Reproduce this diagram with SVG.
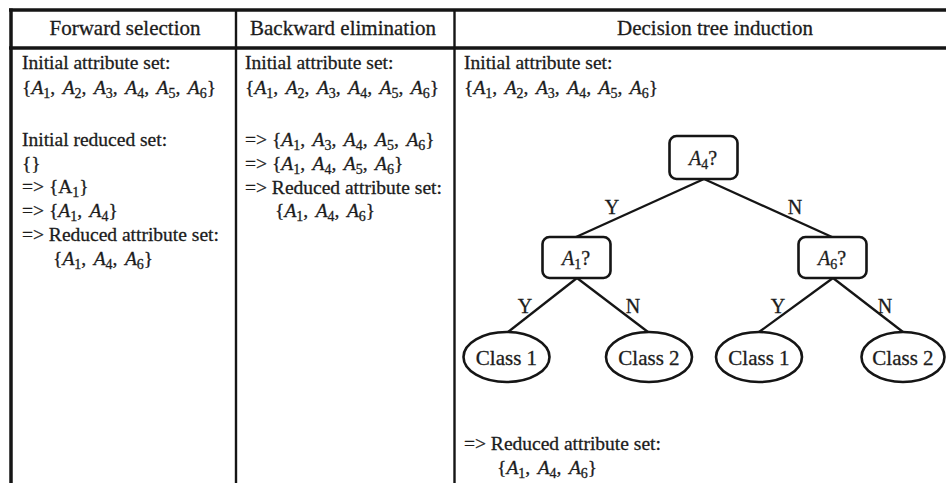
<svg xmlns="http://www.w3.org/2000/svg" width="946" height="486" viewBox="0 0 946 486">
  <style>
    text { font-family: "Liberation Serif", "Times New Roman", serif; fill: #1c1c1c; stroke: #1c1c1c; stroke-width: 0.3; }
    .hd { font-size: 21px; text-anchor: middle; }
    .bd { font-size: 19.5px; }
    .set { word-spacing: 2.6px; }
    .arr { word-spacing: 0; }
    .i { font-style: italic; }
    .s { font-size: 14px; }
    .rule { stroke: #151515; fill: none; }
    .box { fill: #fff; stroke: #151515; stroke-width: 2.6; }
    .edge { stroke: #151515; stroke-width: 2.3; fill: none; }
    .lbl { font-size: 20px; text-anchor: middle; }
    .leaf { font-size: 21px; text-anchor: middle; }
  </style>
  <rect width="946" height="486" fill="#fff"/>

  <!-- table rules -->
  <g id="table">
    <line class="rule" x1="9" y1="10" x2="946" y2="10" stroke-width="3.5"/>
    <line class="rule" x1="9" y1="48" x2="946" y2="48" stroke-width="3.5"/>
    <line class="rule" x1="11" y1="8.5" x2="11" y2="483" stroke-width="3.5"/>
    <line class="rule" x1="236" y1="10" x2="236" y2="483" stroke-width="2.4"/>
    <line class="rule" x1="454.5" y1="10" x2="454.5" y2="483" stroke-width="2.4"/>
  </g>

  <!-- column headings -->
  <g id="headings">
    <text class="hd" x="125" y="35">Forward selection</text>
    <text class="hd" x="343" y="35">Backward elimination</text>
    <text class="hd" x="715" y="35">Decision tree induction</text>
  </g>

  <!-- forward selection column -->
  <g id="forward">
    <text class="bd" x="22" y="69">Initial attribute set:</text>
    <text class="bd set" x="22" y="94">{<tspan class="i">A</tspan><tspan class="s" dy="4">1</tspan><tspan dy="-4">, </tspan><tspan class="i">A</tspan><tspan class="s" dy="4">2</tspan><tspan dy="-4">, </tspan><tspan class="i">A</tspan><tspan class="s" dy="4">3</tspan><tspan dy="-4">, </tspan><tspan class="i">A</tspan><tspan class="s" dy="4">4</tspan><tspan dy="-4">, </tspan><tspan class="i">A</tspan><tspan class="s" dy="4">5</tspan><tspan dy="-4">, </tspan><tspan class="i">A</tspan><tspan class="s" dy="4">6</tspan><tspan dy="-4">}</tspan></text>
    <text class="bd" x="22" y="146">Initial reduced set:</text>
    <text class="bd" x="22" y="170">{}</text>
    <text class="bd set" x="22" y="193"><tspan class="arr">=&gt; </tspan>{A<tspan class="s" dy="4">1</tspan><tspan dy="-4">}</tspan></text>
    <text class="bd set" x="22" y="217"><tspan class="arr">=&gt; </tspan>{<tspan class="i">A</tspan><tspan class="s" dy="4">1</tspan><tspan dy="-4">, </tspan><tspan class="i">A</tspan><tspan class="s" dy="4">4</tspan><tspan dy="-4">}</tspan></text>
    <text class="bd" x="22" y="241">=&gt; Reduced attribute set:</text>
    <text class="bd set" x="53" y="265">{<tspan class="i">A</tspan><tspan class="s" dy="4">1</tspan><tspan dy="-4">, </tspan><tspan class="i">A</tspan><tspan class="s" dy="4">4</tspan><tspan dy="-4">, </tspan><tspan class="i">A</tspan><tspan class="s" dy="4">6</tspan><tspan dy="-4">}</tspan></text>
  </g>

  <!-- backward elimination column -->
  <g id="backward">
    <text class="bd" x="245" y="69">Initial attribute set:</text>
    <text class="bd set" x="245" y="94">{<tspan class="i">A</tspan><tspan class="s" dy="4">1</tspan><tspan dy="-4">, </tspan><tspan class="i">A</tspan><tspan class="s" dy="4">2</tspan><tspan dy="-4">, </tspan><tspan class="i">A</tspan><tspan class="s" dy="4">3</tspan><tspan dy="-4">, </tspan><tspan class="i">A</tspan><tspan class="s" dy="4">4</tspan><tspan dy="-4">, </tspan><tspan class="i">A</tspan><tspan class="s" dy="4">5</tspan><tspan dy="-4">, </tspan><tspan class="i">A</tspan><tspan class="s" dy="4">6</tspan><tspan dy="-4">}</tspan></text>
    <text class="bd set" x="245" y="146"><tspan class="arr">=&gt; </tspan>{<tspan class="i">A</tspan><tspan class="s" dy="4">1</tspan><tspan dy="-4">, </tspan><tspan class="i">A</tspan><tspan class="s" dy="4">3</tspan><tspan dy="-4">, </tspan><tspan class="i">A</tspan><tspan class="s" dy="4">4</tspan><tspan dy="-4">, </tspan><tspan class="i">A</tspan><tspan class="s" dy="4">5</tspan><tspan dy="-4">, </tspan><tspan class="i">A</tspan><tspan class="s" dy="4">6</tspan><tspan dy="-4">}</tspan></text>
    <text class="bd set" x="245" y="170"><tspan class="arr">=&gt; </tspan>{<tspan class="i">A</tspan><tspan class="s" dy="4">1</tspan><tspan dy="-4">, </tspan><tspan class="i">A</tspan><tspan class="s" dy="4">4</tspan><tspan dy="-4">, </tspan><tspan class="i">A</tspan><tspan class="s" dy="4">5</tspan><tspan dy="-4">, </tspan><tspan class="i">A</tspan><tspan class="s" dy="4">6</tspan><tspan dy="-4">}</tspan></text>
    <text class="bd" x="245" y="194">=&gt; Reduced attribute set:</text>
    <text class="bd set" x="275" y="217">{<tspan class="i">A</tspan><tspan class="s" dy="4">1</tspan><tspan dy="-4">, </tspan><tspan class="i">A</tspan><tspan class="s" dy="4">4</tspan><tspan dy="-4">, </tspan><tspan class="i">A</tspan><tspan class="s" dy="4">6</tspan><tspan dy="-4">}</tspan></text>
  </g>

  <!-- decision tree column text -->
  <g id="tree-text">
    <text class="bd" x="464" y="69">Initial attribute set:</text>
    <text class="bd set" x="464" y="94">{<tspan class="i">A</tspan><tspan class="s" dy="4">1</tspan><tspan dy="-4">, </tspan><tspan class="i">A</tspan><tspan class="s" dy="4">2</tspan><tspan dy="-4">, </tspan><tspan class="i">A</tspan><tspan class="s" dy="4">3</tspan><tspan dy="-4">, </tspan><tspan class="i">A</tspan><tspan class="s" dy="4">4</tspan><tspan dy="-4">, </tspan><tspan class="i">A</tspan><tspan class="s" dy="4">5</tspan><tspan dy="-4">, </tspan><tspan class="i">A</tspan><tspan class="s" dy="4">6</tspan><tspan dy="-4">}</tspan></text>
    <text class="bd" x="464" y="450">=&gt; Reduced attribute set:</text>
    <text class="bd set" x="497" y="474">{<tspan class="i">A</tspan><tspan class="s" dy="4">1</tspan><tspan dy="-4">, </tspan><tspan class="i">A</tspan><tspan class="s" dy="4">4</tspan><tspan dy="-4">, </tspan><tspan class="i">A</tspan><tspan class="s" dy="4">6</tspan><tspan dy="-4">}</tspan></text>
  </g>

  <!-- tree edges with their Y / N labels -->
  <g id="connectors">
    <line class="edge" x1="704" y1="179" x2="576" y2="237"/>
    <line class="edge" x1="704" y1="179" x2="832" y2="237"/>
    <line class="edge" x1="577" y1="278" x2="508" y2="332"/>
    <line class="edge" x1="577" y1="278" x2="648" y2="332"/>
    <line class="edge" x1="833" y1="278" x2="759" y2="332"/>
    <line class="edge" x1="833" y1="278" x2="903" y2="332"/>
    <text class="lbl" x="612" y="214">Y</text>
    <text class="lbl" x="795" y="214">N</text>
    <text class="lbl" x="525" y="313">Y</text>
    <text class="lbl" x="633" y="313">N</text>
    <text class="lbl" x="778" y="313">Y</text>
    <text class="lbl" x="885" y="313">N</text>
  </g>

  <!-- decision nodes -->
  <g id="node-a4">
    <rect class="box" x="669.5" y="136" width="68" height="43" rx="7"/>
    <text class="lbl" x="703" y="165"><tspan class="i">A</tspan><tspan class="s" dy="4">4</tspan><tspan dy="-4">?</tspan></text>
  </g>
  <g id="node-a1">
    <rect class="box" x="542.5" y="237" width="68" height="41" rx="7"/>
    <text class="lbl" x="576" y="265"><tspan class="i">A</tspan><tspan class="s" dy="4">1</tspan><tspan dy="-4">?</tspan></text>
  </g>
  <g id="node-a6">
    <rect class="box" x="798.5" y="237" width="68" height="41" rx="7"/>
    <text class="lbl" x="832" y="265"><tspan class="i">A</tspan><tspan class="s" dy="4">6</tspan><tspan dy="-4">?</tspan></text>
  </g>

  <!-- leaf classes -->
  <g id="leaf-1">
    <ellipse class="box" cx="506.5" cy="357" rx="43" ry="25"/>
    <text class="leaf" x="506.5" y="365">Class 1</text>
  </g>
  <g id="leaf-2">
    <ellipse class="box" cx="649" cy="357" rx="43" ry="25"/>
    <text class="leaf" x="649" y="365">Class 2</text>
  </g>
  <g id="leaf-3">
    <ellipse class="box" cx="759" cy="357" rx="43" ry="25"/>
    <text class="leaf" x="759" y="365">Class 1</text>
  </g>
  <g id="leaf-4">
    <ellipse class="box" cx="903" cy="357" rx="41.5" ry="25"/>
    <text class="leaf" x="903" y="365">Class 2</text>
  </g>
</svg>
